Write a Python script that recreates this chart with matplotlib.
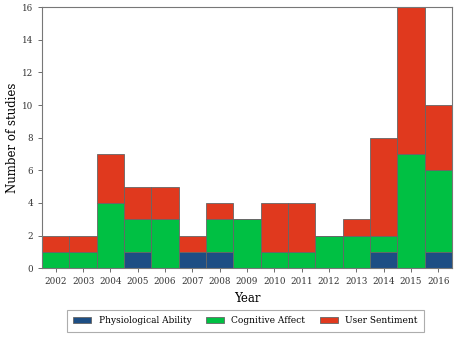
import numpy as np
import matplotlib
matplotlib.use('Agg')
import matplotlib.pyplot as plt

plt.rcParams['font.family'] = 'DejaVu Serif'

years = [2002, 2003, 2004, 2005, 2006, 2007, 2008, 2009, 2010, 2011, 2012, 2013, 2014, 2015, 2016]
physio = [0, 0, 0, 1, 0, 1, 1, 0, 0, 0, 0, 0, 1, 0, 1]
cognitive = [1, 1, 4, 2, 3, 0, 2, 3, 1, 1, 2, 2, 1, 7, 5]
sentiment = [1, 1, 3, 2, 2, 1, 1, 0, 3, 3, 0, 1, 6, 9, 4]

c_blue = '#1d4e84'
c_green = '#00c043'
c_red = '#e0391e'

fig = plt.figure(figsize=(4.63, 3.42), dpi=100)
ax = fig.add_axes([0.091, 0.216, 0.885, 0.763])

x = np.arange(len(years))
p = np.array(physio)
c = np.array(cognitive)
s = np.array(sentiment)
ec = '#666666'
ax.bar(x, p, width=1, color=c_blue, edgecolor=ec, linewidth=0.6, label='Physiological Ability')
ax.bar(x, c, width=1, bottom=p, color=c_green, edgecolor=ec, linewidth=0.6, label='Cognitive Affect')
ax.bar(x, s, width=1, bottom=p + c, color=c_red, edgecolor=ec, linewidth=0.6, label='User Sentiment')

ax.set_xlim(-0.5, len(years) - 0.5)
ax.set_ylim(0, 16)
ax.set_xticks(x)
ax.set_xticklabels([str(y) for y in years], fontsize=6.3)
ax.set_yticks(range(0, 17, 2))
ax.tick_params(axis='y', labelsize=6.3, length=3, width=0.6, color='#555555', labelcolor='#333333')
ax.tick_params(axis='x', length=3, width=0.6, color='#555555', labelcolor='#333333')
for sp in ax.spines.values():
    sp.set_color('#777777')
    sp.set_linewidth(0.8)

ax.set_xlabel('Year', fontsize=8.5, labelpad=4)
ax.set_ylabel('Number of studies', fontsize=8.5, labelpad=2)

leg = fig.legend(loc='center', bbox_to_anchor=(0.530, 0.062), ncol=3, fontsize=6.5,
                 frameon=True, fancybox=False, edgecolor='#999999',
                 handlelength=2.0, handleheight=0.6, columnspacing=1.6, borderpad=0.75)
leg.get_frame().set_linewidth(0.8)

fig.savefig('out.png', dpi=100)
